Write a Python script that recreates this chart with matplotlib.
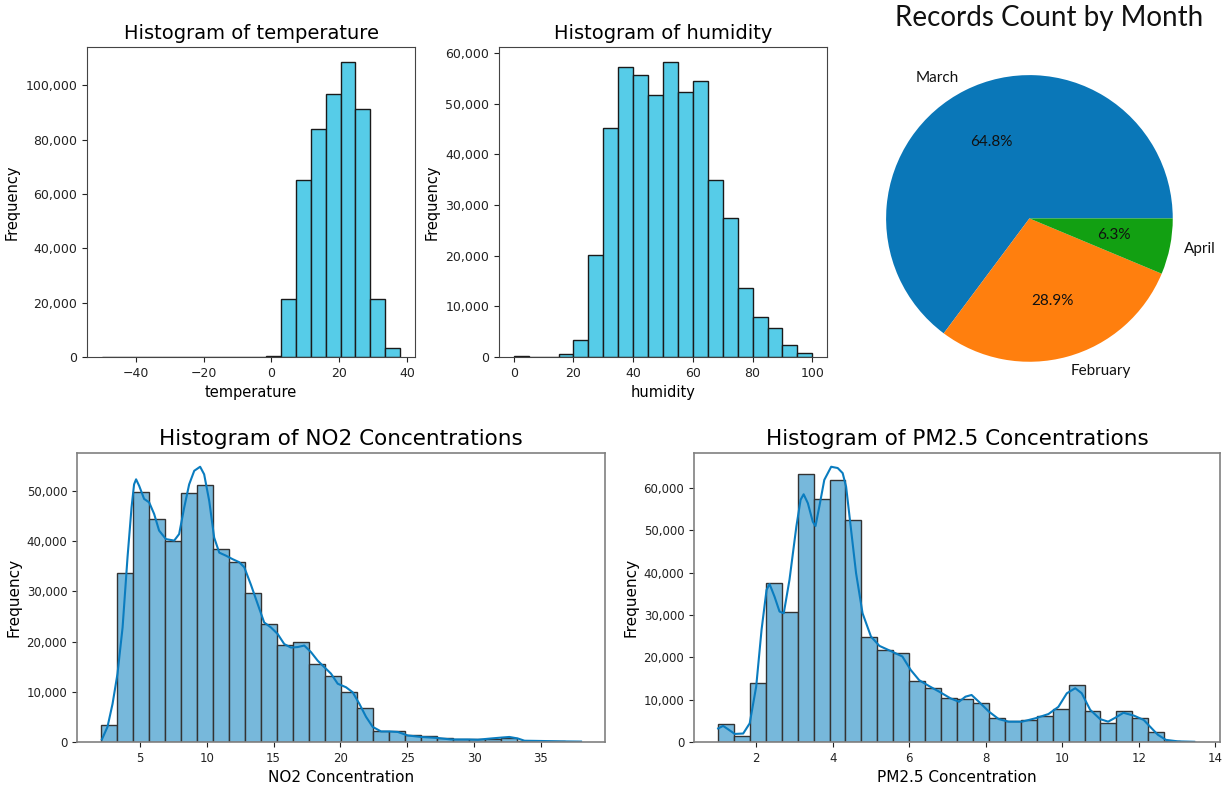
import numpy as np
import matplotlib
matplotlib.use("Agg")
import matplotlib.pyplot as plt
from matplotlib.ticker import MultipleLocator, StrMethodFormatter

# temperature histogram (20 bins from -50 to 38)
temp_range = (-50, 38)
temp_counts = [0, 0, 0, 0, 0, 0, 0, 0, 0, 0, 0, 500,
               21300, 65200, 84000, 97000, 108700, 91300, 21300, 3400]

# humidity histogram (20 bins from 0 to 100)
hum_range = (0, 100)
hum_counts = [200, 0, 0, 500, 3400, 20200, 45200, 57200, 55600, 51700,
              58300, 52300, 54400, 34900, 27400, 13700, 7800, 5800, 2400, 800]

# pie
months = ['March', 'February', 'April']
month_share = [64.8, 28.9, 6.3]
month_colors = ['#0a77b8', '#ff7f0e', '#12a012']

# NO2 histogram (30 bins)
no2_range = (2.1, 38.0)
no2_counts = [3300, 33700, 49700, 44400, 40100, 49500, 51200, 38400, 35800, 29700,
              23400, 19400, 19900, 15600, 13100, 10000, 6800, 2100, 2100, 1300,
              1100, 700, 600, 500, 600, 800, 200, 100, 100, 50]
no2_kde_x = [2.16, 2.58, 2.96, 3.33, 3.71, 4.08, 4.38, 4.57, 4.72, 4.95, 5.32, 5.70,
             6.07, 6.44, 6.95, 7.57, 7.94, 8.32, 8.69, 9.07, 9.51, 9.81, 10.19, 10.56,
             10.94, 11.44, 11.94, 12.43, 12.81, 13.31, 13.81, 14.30, 14.81, 15.31, 15.80,
             16.30, 16.80, 17.30, 17.80, 18.30, 18.80, 19.30, 19.80, 20.42, 20.92, 21.42,
             21.92, 22.42, 23.04, 23.66, 24.29, 25.04, 26.03, 27.28, 28.28, 29.53, 30.28,
             31.27, 32.15, 32.64, 33.27, 33.77, 35.0, 36.5, 38.0]
no2_kde_y = [0.5, 3.0, 7.6, 13.6, 22.8, 36.8, 46.7, 51.3, 52.3, 51.0, 48.4, 47.7,
             45.4, 42.1, 40.4, 40.1, 41.4, 46.7, 51.3, 54.0, 54.8, 53.3, 48.0, 40.7,
             37.7, 37.1, 36.4, 35.8, 34.8, 31.3, 27.5, 23.8, 22.8, 21.5, 19.5,
             18.8, 18.9, 19.2, 17.9, 16.2, 14.9, 13.6, 11.6, 10.9, 9.9, 7.6,
             5.0, 3.0, 2.1, 2.1, 2.0, 1.3, 1.0, 0.8, 0.5, 0.5, 0.45,
             0.7, 0.9, 1.0, 0.7, 0.25, 0.2, 0.12, 0.08]

# PM2.5 histogram (30 bins)
pm_range = (1.0, 13.5)
pm_counts = [4300, 1400, 13900, 37500, 30600, 63200, 57300, 61800, 52400, 24900,
             21800, 20900, 14500, 12800, 10500, 10100, 9100, 5700, 5000, 5300,
             6200, 7700, 13500, 7300, 4500, 7300, 5700, 2400, 200, 100]
pm_kde_x = [1.005, 1.135, 1.265, 1.44, 1.66, 1.83, 2.0, 2.14, 2.27, 2.35, 2.48, 2.61,
            2.72, 2.87, 3.05, 3.16, 3.24, 3.35, 3.48, 3.55, 3.65, 3.78, 3.96, 4.13,
            4.26, 4.35, 4.48, 4.61, 4.78, 5.0, 5.22, 5.56, 5.82, 6.04, 6.26, 6.52,
            6.78, 7.08, 7.30, 7.47, 7.63, 7.82, 8.08, 8.34, 8.60, 8.95, 9.30, 9.64,
            9.90, 10.12, 10.34, 10.51, 10.73, 10.99, 11.2, 11.4, 11.6, 11.88, 12.13,
            12.34, 12.50, 12.71, 13.02, 13.45]
pm_kde_y = [3.2, 3.8, 3.0, 1.9, 2.0, 4.4, 13.1, 26.5, 35.9, 37.3, 34.3, 30.8,
            30.4, 38.3, 50.9, 57.2, 58.5, 56.4, 52.0, 51.0, 55.6, 61.9, 65.0, 64.7,
            63.5, 60.3, 50.1, 39.9, 30.4, 24.9, 22.7, 21.3, 20.2, 17.0, 14.6, 13.2,
            11.9, 10.3, 9.5, 10.7, 11.1, 9.5, 7.2, 5.4, 4.8, 4.8, 5.6, 6.6,
            8.3, 11.5, 12.7, 11.5, 7.6, 5.4, 4.8, 5.8, 6.9, 6.2, 5.2,
            3.2, 1.7, 0.5, 0.15, 0.05]

comma = StrMethodFormatter('{x:,.0f}')


def hist_bars(ax, rng, counts, face, edge, lw):
    edges = np.linspace(rng[0], rng[1], len(counts) + 1)
    ax.bar(edges[:-1], counts, width=np.diff(edges), align='edge',
           color=face, edgecolor=edge, linewidth=lw)
    ax.margins(x=0.05)


fig = plt.figure(figsize=(12.31, 7.87), dpi=100)

# --- top row histograms ---
top_cyan = '#56cce8'
ax1 = fig.add_axes([0.0707, 0.5464, 0.2665, 0.3939])
hist_bars(ax1, temp_range, temp_counts, top_cyan, '#1a1a1a', 1.0)
ax1.set_title('Histogram of temperature', fontsize=14)
ax1.set_xlabel('temperature', fontsize=10.5)
ax1.set_ylabel('Frequency', fontsize=10.5)
ax1.yaxis.set_major_locator(MultipleLocator(20000))

ax2 = fig.add_axes([0.4052, 0.5464, 0.2668, 0.3939])
hist_bars(ax2, hum_range, hum_counts, top_cyan, '#1a1a1a', 1.0)
ax2.set_title('Histogram of humidity', fontsize=14)
ax2.set_xlabel('humidity', fontsize=10.5)
ax2.set_ylabel('Frequency', fontsize=10.5)
ax2.yaxis.set_major_locator(MultipleLocator(10000))

for ax in (ax1, ax2):
    ax.yaxis.set_major_formatter(comma)
    ax.tick_params(labelsize=9, colors='#222222')
    for s in ax.spines.values():
        s.set_color('#444444')

# --- pie ---
ax3 = fig.add_axes([0.6907, 0.4948, 0.2911, 0.4553])
ax3.pie(month_share, labels=months, colors=month_colors, autopct='%1.1f%%',
        textprops={'family': 'Lato', 'fontsize': 11, 'color': '#111111'})
fig.text(1049.5 / 1231, 1 - 18 / 787, 'Records Count by Month', family='Lato',
         fontsize=20, ha='center', va='center', color='#111111')

# --- bottom row histograms ---
bot_face = '#77b8db'
kde_col = '#0a7cbf'
ax4 = fig.add_axes([0.0626, 0.0572, 0.4289, 0.3672])
hist_bars(ax4, no2_range, no2_counts, bot_face, '#333333', 1.0)
ax4.plot(no2_kde_x, np.array(no2_kde_y) * 1000, color=kde_col, lw=1.5)
ax4.set_title('Histogram of NO2 Concentrations', fontsize=15.5)
ax4.set_xlabel('NO2 Concentration', fontsize=11)
ax4.set_ylabel('Frequency', fontsize=11)
ax4.xaxis.set_major_locator(MultipleLocator(5))
ax4.yaxis.set_major_locator(MultipleLocator(10000))

ax5 = fig.add_axes([0.5638, 0.0572, 0.4273, 0.3672])
hist_bars(ax5, pm_range, pm_counts, bot_face, '#333333', 1.0)
ax5.plot(pm_kde_x, np.array(pm_kde_y) * 1000, color=kde_col, lw=1.5)
ax5.set_title('Histogram of PM2.5 Concentrations', fontsize=15.5)
ax5.set_xlabel('PM2.5 Concentration', fontsize=11)
ax5.set_ylabel('Frequency', fontsize=11)
ax5.xaxis.set_major_locator(MultipleLocator(2))
ax5.yaxis.set_major_locator(MultipleLocator(10000))

for ax in (ax4, ax5):
    ax.yaxis.set_major_formatter(comma)
    ax.tick_params(labelsize=8.5, colors='#222222')
    for s in ax.spines.values():
        s.set_color('#808080')
        s.set_linewidth(1.2)

fig.savefig('out.png', dpi=100)
